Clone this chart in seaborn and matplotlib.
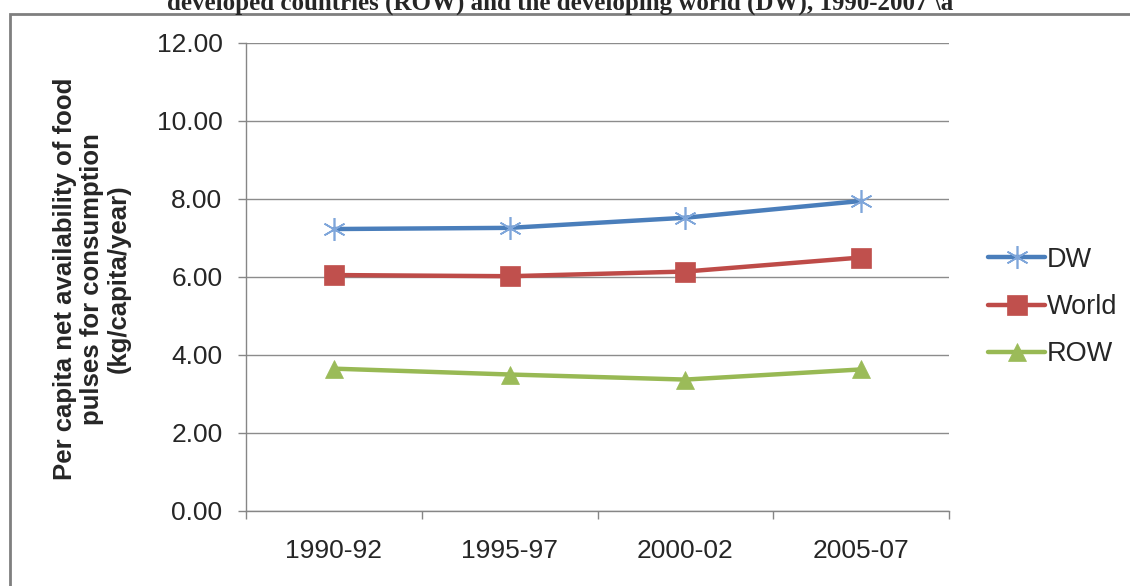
import pandas as pd
import matplotlib
matplotlib.use("Agg")
import matplotlib.pyplot as plt
from matplotlib.patches import Rectangle
from matplotlib.ticker import FixedLocator
import seaborn as sns

periods = ['1990-92', '1995-97', '2000-02', '2005-07']
dw = [7.23, 7.26, 7.52, 7.95]
world = [6.05, 6.02, 6.14, 6.50]
row = [3.65, 3.50, 3.37, 3.63]
y_ticks = [0, 2, 4, 6, 8, 10, 12]

sns.set_style('white')
plt.rcParams['font.family'] = ['Liberation Sans', 'DejaVu Sans']

fig = plt.figure(figsize=(11.3, 5.86), dpi=100)
ax = fig.add_axes([246/1130, 1 - 511/586, (949 - 246)/1130, (511 - 43)/586])

series = [
    ('DW', dw, '#4A7EBB', '#7FA6DA', (6, 2, 0), 16.5),
    ('World', world, '#BE4B48', '#C0504D', 's', 14),
    ('ROW', row, '#98B954', '#9BBB59', '^', 13),
]
handles = []
for name, vals, lc, mc, mk, ms in series:
    df = pd.DataFrame({'period': periods, 'value': vals})
    sns.lineplot(data=df, x='period', y='value', ax=ax, color=lc, lw=3.2,
                 marker=mk, markersize=ms, markerfacecolor=mc,
                 markeredgecolor=mc, markeredgewidth=1.2 if name == 'DW' else 0.5,
                 label=name, legend=False)
    handles.append(ax.lines[-1])

ax.set_xlim(-0.5, 3.5)
ax.set_ylim(0, 12)
ax.set_yticks(y_ticks)
ax.set_yticklabels([f'{v:.2f}' for v in y_ticks])
ax.xaxis.set_minor_locator(FixedLocator([-0.5, 0.5, 1.5, 2.5, 3.5]))
ax.tick_params(axis='x', which='major', length=0, pad=20, labelsize=19)
ax.tick_params(axis='x', which='minor', length=6, width=1, color='#868686', direction='out', bottom=True)
ax.tick_params(axis='y', which='major', length=6, width=1, color='#868686', direction='out',
               left=True, pad=11, labelsize=19)
ax.set_xlabel('')
ax.set_ylabel('')
ax.grid(axis='y', color='#8C8C8C', lw=1)
ax.grid(axis='x', visible=False)
for s in ['top', 'right']:
    ax.spines[s].set_visible(False)
for s in ['left', 'bottom']:
    ax.spines[s].set_color('#868686')
    ax.spines[s].set_linewidth(1)

fig.text(92/1130, 1 - 279/586,
         'Per capita net availability of food\npulses for consumption\n(kg/capita/year)',
         rotation=90, ha='center', va='center', ma='center', fontsize=18.5,
         fontweight='bold', linespacing=1.15)

leg = fig.legend(handles=handles, labels=['DW', 'World', 'ROW'], loc='center left',
                 bbox_to_anchor=(964/1130, 1 - 307/586), frameon=False, fontsize=19.5,
                 handlelength=2.1, handletextpad=0.05, labelspacing=0.78)

# frame of the embedded chart
fig.patches.append(Rectangle((10/1130, -0.05), 1.2, (1 - 14/586) + 0.05,
                             transform=fig.transFigure, fill=False,
                             edgecolor='#7F7F7F', lw=2))

fig.text(560/1130, 1 - 10/586,
         'developed countries (ROW) and the developing world (DW), 1990-2007 \\a',
         ha='center', va='baseline', fontsize=18, fontweight='bold',
         family=['Liberation Serif', 'DejaVu Serif'])

fig.savefig('out.png', dpi=100)
